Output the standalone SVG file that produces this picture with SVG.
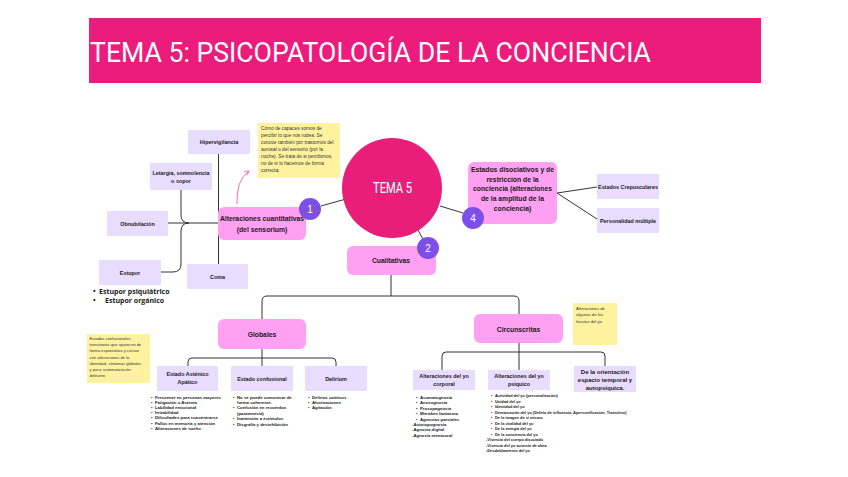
<svg xmlns="http://www.w3.org/2000/svg" width="848" height="477" viewBox="0 0 848 477">
<defs>
<style>
.lbl{font-family:"Liberation Sans",Arial,sans-serif;font-weight:700;fill:#1a1a1a;text-anchor:middle}
.big{font-size:6.8px}
.sm{font-size:5.4px}
.lst{font-family:"Liberation Sans",Arial,sans-serif;font-weight:700;fill:#1a1a1a;font-size:4.3px}
.note{font-family:"Liberation Sans",Arial,sans-serif;fill:#333;}
.pink{fill:#FFA0F2}
.lav{fill:#E8DDFF}
.yel{fill:#FFF29F}
.badge{fill:#7E4FE6}
.bnum{font-family:"Liberation Sans",Arial,sans-serif;fill:#fff;font-size:10px;text-anchor:middle}
.con{fill:none;stroke:#333;stroke-width:1}
</style>
<marker id="ah" viewBox="0 0 10 10" refX="8" refY="5" markerWidth="6" markerHeight="6" orient="auto"><path d="M1,1 L8,5 L1,9" fill="none" stroke="#F06EB0" stroke-width="1.5"/></marker>
</defs>
<rect width="848" height="477" fill="#fff"/>
<g id="title">
<rect x="89" y="18" width="672" height="65" fill="#EC1C7D"/>
<text x="90" y="62" font-family="Roboto,'Liberation Sans',sans-serif" font-size="28" fill="#fff" textLength="561" lengthAdjust="spacingAndGlyphs">TEMA 5: PSICOPATOLOGÍA DE LA CONCIENCIA</text>
</g>
<g id="connectors">
<line class="con" x1="321" y1="206" x2="346" y2="199"/>
<line class="con" x1="440" y1="206" x2="463" y2="213"/>
<line class="con" x1="418" y1="230" x2="424" y2="241"/>
<path class="con" d="M218.5,154 V264"/>
<path class="con" d="M168,223 H218.5"/>
<path class="con" d="M181,190 V215 Q181,223 189,223 Q181,223 181,231 V264 Q181,272 173,272 H161"/>
<path class="con" d="M391,275 V296"/>
<path class="con" d="M262,319 V301 Q262,296 267,296 H514 Q519,296 519,301 V314"/>
<path class="con" d="M262,348 V366"/>
<path class="con" d="M188,366 V362 Q188,358 192,358 H332 Q336,358 336,362 V366"/>
<path class="con" d="M519,343 V370"/>
<path class="con" d="M442,370 V356 Q442,352 446,352 H601 Q605,352 605,356 V366"/>
<line class="con" x1="557" y1="193" x2="597" y2="187"/>
<line class="con" x1="557" y1="193" x2="597" y2="219"/>
<path d="M237,204 Q236,180 249,171" fill="none" stroke="#F06EB0" stroke-width="1" marker-end="url(#ah)"/>
</g>
<g id="tema5">
<circle cx="392" cy="188" r="50" fill="#E91E7A"/>
<text x="392.5" y="193" font-family="Roboto,'Liberation Sans',sans-serif" font-size="14" fill="#fff" text-anchor="middle" textLength="39" lengthAdjust="spacingAndGlyphs">TEMA 5</text>
</g>
<g id="cuantitativas">
<rect class="pink" x="218" y="207" width="88" height="33" rx="6"/>
<text class="lbl big" x="262" y="221">Alteraciones cuantitativas</text>
<text class="lbl big" x="262" y="232">(del sensorium)</text>
</g>
<g id="badge1"><circle class="badge" cx="310" cy="209" r="11"/><text class="bnum" x="310" y="212.5">1</text></g>
<g id="nota1">
<rect class="yel" x="258" y="123" width="82" height="55"/>
<g class="note" font-size="4.8">
<text x="261" y="130">Cómo de capaces somos de</text>
<text x="261" y="137">percibir lo que nos rodea. Se</text>
<text x="261" y="144">conoce también por trastornos del</text>
<text x="261" y="151">aurosal o del sensorio (por la</text>
<text x="261" y="158">noche). Se trata de si percibimos,</text>
<text x="261" y="165">no de si lo hacemos de forma</text>
<text x="261" y="172">correcta.</text>
</g>
</g>
<g id="hipervigilancia"><rect class="lav" x="188" y="130" width="62" height="24"/><text class="lbl sm" x="219" y="144">Hipervigilancia</text></g>
<g id="letargia"><rect class="lav" x="150" y="163" width="62" height="27"/><text class="lbl sm" x="181" y="175">Letargia, somnolencia</text><text class="lbl sm" x="181" y="183">o sopor</text></g>
<g id="obnubilacion"><rect class="lav" x="107" y="211" width="61" height="25"/><text class="lbl sm" x="137.5" y="225.5">Obnubilación</text></g>
<g id="estupor"><rect class="lav" x="99" y="260" width="62" height="25"/><text class="lbl sm" x="130" y="274.5">Estupor</text>
<text x="93" y="294" font-family="'Open Sans','Liberation Sans',sans-serif" font-weight="700" font-size="7" fill="#1a1a1a">•<tspan x="99">Estupor psiquiátrico</tspan></text>
<text x="93" y="303" font-family="'Open Sans','Liberation Sans',sans-serif" font-weight="700" font-size="7" fill="#1a1a1a">•<tspan x="105">Estupor orgánico</tspan></text>
</g>
<g id="coma"><rect class="lav" x="187" y="264" width="61" height="25"/><text class="lbl sm" x="217.5" y="278.5">Coma</text></g>
<g id="cualitativas"><rect class="pink" x="347" y="246" width="89" height="29" rx="6"/><text class="lbl big" x="391" y="263">Cualitativas</text></g>
<g id="badge2"><circle class="badge" cx="428" cy="248" r="11"/><text class="bnum" x="428" y="251.5">2</text></g>
<g id="disociativos">
<rect class="pink" x="468" y="162" width="89" height="62" rx="6"/>
<text class="lbl big" x="512.5" y="172">Estados disociativos y de</text>
<text class="lbl big" x="512.5" y="181.7">restricción de la</text>
<text class="lbl big" x="512.5" y="191.4">conciencia (alteraciones</text>
<text class="lbl big" x="512.5" y="201.1">de la amplitud de la</text>
<text class="lbl big" x="512.5" y="210.8">conciencia)</text>
</g>
<g id="badge4"><circle class="badge" cx="473" cy="218" r="11"/><text class="bnum" x="473" y="221.5">4</text></g>
<g id="crepusculares"><rect class="lav" x="597" y="174" width="62" height="25"/><text class="lbl sm" x="628" y="188.5">Estados Crepusculares</text></g>
<g id="personalidad"><rect class="lav" x="597" y="208" width="62" height="25"/><text class="lbl sm" x="628" y="222.5">Personalidad múltiple</text></g>
<g id="globales"><rect class="pink" x="218" y="319" width="88" height="30" rx="6"/><text class="lbl big" x="262" y="336.5">Globales</text></g>
<g id="nota2">
<rect class="yel" x="87" y="334" width="63" height="49"/>
<g class="note" font-size="4.1">
<text x="89.5" y="340">Estados confusionales</text>
<text x="89.5" y="346.2">transitorios que aparecen de</text>
<text x="89.5" y="352.4">forma espontánea y cursan</text>
<text x="89.5" y="358.6">con alteraciones de la</text>
<text x="89.5" y="364.8">identidad, síntomas globales</text>
<text x="89.5" y="371">y poca sistematización</text>
<text x="89.5" y="377.2">delirante.</text>
</g>
</g>
<g id="circunscritas"><rect class="pink" x="474" y="314" width="89" height="29" rx="6"/><text class="lbl big" x="518.5" y="331.5">Circunscritas</text></g>
<g id="nota3">
<rect class="yel" x="573" y="303" width="44" height="42"/>
<g class="note" font-size="4.2">
<text x="576" y="309.5">Alteraciones de</text>
<text x="576" y="316">algunas de las</text>
<text x="576" y="322.5">facetas del yo.</text>
</g>
</g>
<g id="astenico">
<rect class="lav" x="157" y="366" width="61" height="25"/>
<text class="lbl sm" x="187.5" y="376">Estado Asténico</text>
<text class="lbl sm" x="187.5" y="384">Apático</text>
<g class="lst">
<text x="151" y="398.5">•<tspan x="155">Frecuente en personas mayores</tspan></text>
<text x="151" y="403.7">•<tspan x="155">Fatigación o Astenia</tspan></text>
<text x="151" y="408.9">•<tspan x="155">Labilidad emocional</tspan></text>
<text x="151" y="414.1">•<tspan x="155">Irritabilidad</tspan></text>
<text x="151" y="419.3">•<tspan x="155">Dificultades para concentrarse</tspan></text>
<text x="151" y="424.5">•<tspan x="155">Fallos en memoria y atención</tspan></text>
<text x="151" y="429.7">•<tspan x="155">Alteraciones de sueño</tspan></text>
</g>
</g>
<g id="confusional">
<rect class="lav" x="231" y="366" width="62" height="25"/>
<text class="lbl sm" x="262" y="380.5">Estado confusional</text>
<g class="lst">
<text x="233" y="398.5">•<tspan x="237">No se puede comunicar de</tspan></text>
<text x="237" y="403.9">forma coherente.</text>
<text x="233" y="409.3">•<tspan x="237">Confusión en recuerdos</tspan></text>
<text x="237" y="414.7">(paramnesia)</text>
<text x="233" y="420.1">•<tspan x="237">Inatención a estímulos</tspan></text>
<text x="233" y="425.5">•<tspan x="237">Disgrafía y desinhibición</tspan></text>
</g>
</g>
<g id="delirium">
<rect class="lav" x="305" y="366" width="62" height="25"/>
<text class="lbl sm" x="336" y="380.5">Delirium</text>
<g class="lst">
<text x="308" y="398.5">•<tspan x="312">Delirios caóticos</tspan></text>
<text x="308" y="403.7">•<tspan x="312">Alucinaciones</tspan></text>
<text x="308" y="408.9">•<tspan x="312">Agitación</tspan></text>
</g>
</g>
<g id="corporal">
<rect class="lav" x="413" y="370" width="62" height="20"/>
<text class="lbl sm" x="444" y="378">Alteraciones del yo</text>
<text class="lbl sm" x="444" y="386">corporal</text>
<g class="lst">
<text x="416" y="399">•<tspan x="420">Asomatognosia</tspan></text>
<text x="416" y="404.4">•<tspan x="420">Anosognosia</tspan></text>
<text x="416" y="409.8">•<tspan x="420">Prosopagnosia</tspan></text>
<text x="416" y="415.2">•<tspan x="420">Miembro fantasma</tspan></text>
<text x="416" y="420.6">•<tspan x="420">Agnosias parciales</tspan></text>
<text x="412" y="426">-Autotopognosia</text>
<text x="412" y="431.4">-Agnosia digital</text>
<text x="412" y="436.8">-Agnosia mentooral</text>
</g>
</g>
<g id="psiquico">
<rect class="lav" x="488" y="370" width="62" height="20"/>
<text class="lbl sm" x="519" y="378">Alteraciones del yo</text>
<text class="lbl sm" x="519" y="386">psíquico</text>
<g class="lst" style="font-size:3.9px">
<text x="491" y="397">•<tspan x="495">Actividad del yo (personalización)</tspan></text>
<text x="491" y="402.5">•<tspan x="495">Unidad del yo</tspan></text>
<text x="491" y="408">•<tspan x="495">Identidad del yo</tspan></text>
<text x="491" y="413.5">•<tspan x="495">Demarcación del yo (Delirio de influencia, Apersonificación, Transitivo)</tspan></text>
<text x="491" y="419">•<tspan x="495">De la imagen de sí mismo</tspan></text>
<text x="491" y="424.5">•<tspan x="495">De la vitalidad del yo</tspan></text>
<text x="491" y="430">•<tspan x="495">De la energía del yo</tspan></text>
<text x="491" y="435.5">•<tspan x="495">De la conciencia del yo</tspan></text>
<text x="486" y="441">-Vivencia del cuerpo disociado</text>
<text x="486" y="446.5">-Vivencia del yo ausente de alma</text>
<text x="486" y="452">-Desdoblamiento del yo</text>
</g>
</g>
<g id="orientacion">
<rect class="lav" x="574" y="366" width="62" height="26"/>
<text class="lbl" font-size="6" x="605" y="374">De la orientación</text>
<text class="lbl" font-size="6" x="605" y="382">espacio temporal y</text>
<text class="lbl" font-size="6" x="605" y="390">autopsíquica.</text>
</g>
</svg>
